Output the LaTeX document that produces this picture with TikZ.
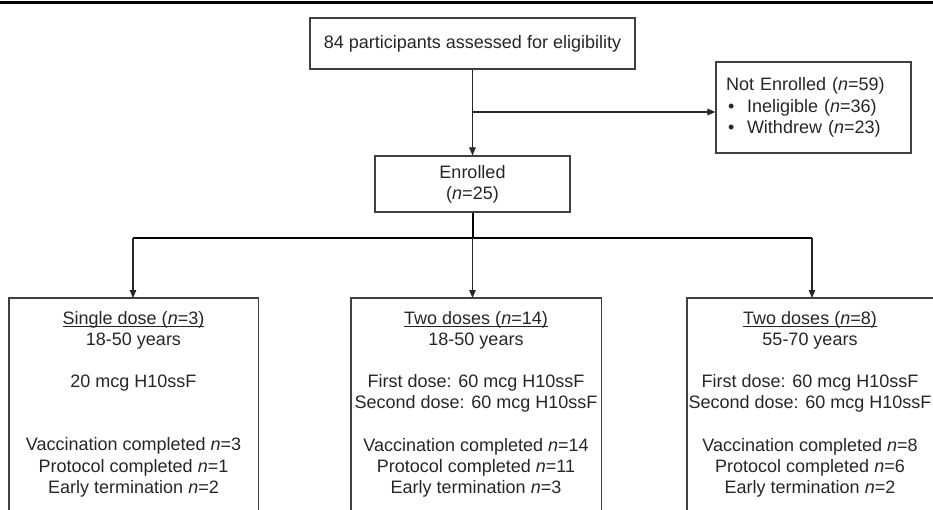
\documentclass[tikz,border=0pt]{standalone}
\usepackage{fontspec}
\setmainfont{Liberation Sans}
\usetikzlibrary{arrows.meta}
\newcommand\myul[1]{\setbox0\hbox{#1}\rlap{\rule[-2.4pt]{\wd0}{0.9pt}}\box0}
\begin{document}
\begin{tikzpicture}[x=1pt,y=-1pt,
  line/.style={draw=black!85, line width=1.1pt},
  heavy/.style={draw=black, line width=2pt},
  arr/.style={line, -{Triangle[length=8pt,width=6.5pt]}},
  box/.style={draw=black!75, line width=1.1pt, inner sep=0pt},
  txt/.style={font=\fontsize{18}{21.2}\selectfont, align=center, inner sep=0pt, text=black!85},
  armbox/.style={minimum width=250pt, minimum height=230pt, inner sep=0pt, anchor=north west},
  ]
\useasboundingbox (0,0) rectangle (933,510);
\clip (0,0) rectangle (933,510);
\draw[line width=3pt] (0,3) -- (933,3);

\node[box, txt, minimum width=325pt, minimum height=51pt] (elig) at (472.5,43.5) {84 participants assessed for eligibility};
\node[box, txt, minimum width=195pt, minimum height=56pt] (enr) at (472.5,184) {Enrolled\\(\textit{n}=25)};
\node[box, font=\fontsize{18}{21.5}\selectfont, text=black!85, align=left, text width=175pt, inner xsep=10pt, inner ysep=0pt, minimum height=91pt] (ne) at (813.5,107.5)
  {Not Enrolled (\textit{n}=59)\\
   \hspace*{2pt}\makebox[19pt][l]{\textbullet}Ineligible (\textit{n}=36)\\
   \hspace*{2pt}\makebox[19pt][l]{\textbullet}Withdrew (\textit{n}=23)};

\node[armbox, minimum width=249pt] (A) at (9,298) {};
\node[armbox] (B) at (351,298) {};
\node[armbox] (C) at (687,298) {};
\draw[box] (A.south west) -- (A.north west) -- (A.north east) -- (A.south east);
\draw[box] (B.south west) -- (B.north west) -- (B.north east) -- (B.south east);
\draw[box] (C.south west) -- (C.north west) -- (C.north east) -- (C.south east);

\node[txt, anchor=north] (tA) at (133.5,311) {\myul{Single dose (\textit{n}=3)}\\18-50 years\\[21pt]20 mcg H10ssF\\[42pt]Vaccination completed \textit{n}=3\\Protocol completed \textit{n}=1\\Early termination \textit{n}=2};
\node[txt, anchor=north] (tB) at (476,311) {\myul{Two doses (\textit{n}=14)}\\18-50 years\\[21pt]First dose: 60 mcg H10ssF\\Second dose: 60 mcg H10ssF\\[21pt]Vaccination completed \textit{n}=14\\Protocol completed \textit{n}=11\\Early termination \textit{n}=3};
\node[txt, anchor=north] (tC) at (810,311) {\myul{Two doses (\textit{n}=8)}\\55-70 years\\[21pt]First dose: 60 mcg H10ssF\\Second dose: 60 mcg H10ssF\\[21pt]Vaccination completed \textit{n}=8\\Protocol completed \textit{n}=6\\Early termination \textit{n}=2};

\coordinate (br) at (472.5,112);
\draw[arr] (elig) -- (enr);
\draw[arr] (br) -- (br -| ne.west);

\coordinate (split) at (472.5,238);
\coordinate (hl) at (133,238);
\coordinate (hr) at (812,238);
\draw[heavy] (enr.south) -- (split);
\draw[heavy] (hl) -- (hr);
\draw[arr] (hl) -- (hl |- A.north);
\draw[arr] (split) -- (split |- B.north);
\draw[arr] (hr) -- (hr |- C.north);
\end{tikzpicture}
\end{document}
